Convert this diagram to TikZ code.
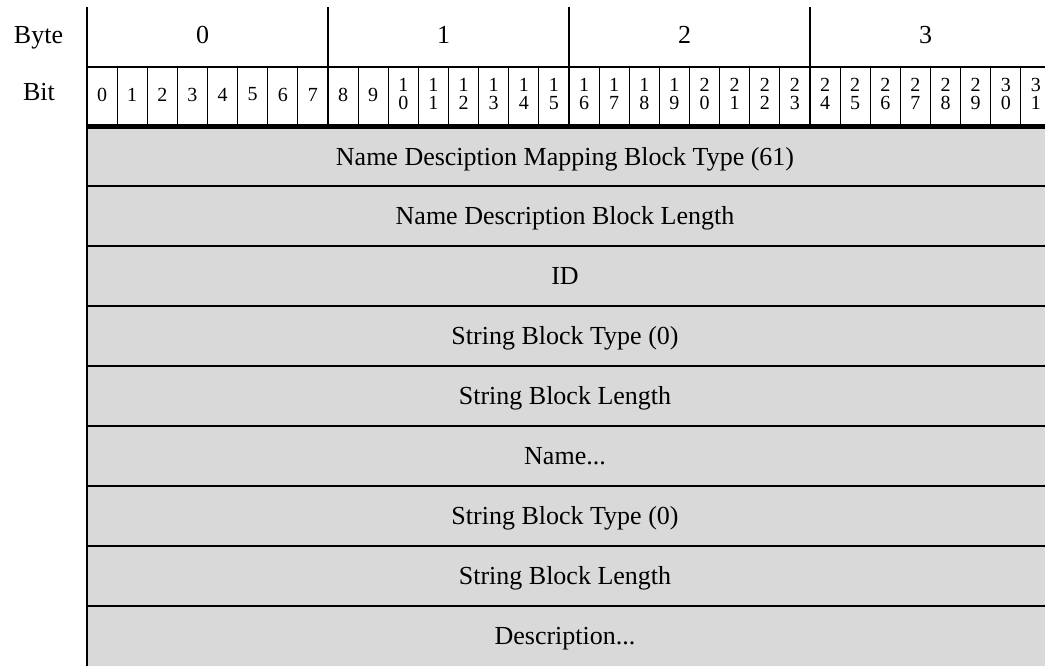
\documentclass[tikz,border=0pt]{standalone}
\usepackage{fontspec}
\setmainfont{Liberation Serif}
\definecolor{rowgray}{RGB}{217,217,217}
\begin{document}
\begin{tikzpicture}[x=1pt,y=-1pt,
  maintext/.style={font=\fontsize{26}{30}\selectfont, inner sep=0pt, anchor=base},
  bittext/.style={font=\fontsize{20}{18}\selectfont, inner sep=0pt, align=center, anchor=center},
  bitline/.style={line width=0.9pt},
  byteline/.style={line width=2pt},
  rowline/.style={line width=1.4pt},
  thickline/.style={line width=5pt}]
\useasboundingbox (0,0) rectangle (1045,665);
\clip (0,0) rectangle (1045,665);
% gray field
\fill[rowgray] (87,126) rectangle (1050,670);
% row separators
\foreach \k in {0,...,7}{
  \draw[rowline] (86,186+60*\k) -- (1050,186+60*\k);
}
% horizontal line between byte and bit rows
\draw[line width=1.5pt] (86,67) -- (1050,67);
% bit dividers
\foreach \k in {1,...,31}{
  \draw[bitline] ({87+30.125*\k},67) -- ({87+30.125*\k},124);
}
% byte dividers
\foreach \b in {1,2,3}{
  \draw[byteline] ({87+241*\b},7) -- ({87+241*\b},124);
}
% thick line under bit row
\draw[thickline] (86,126.5) -- (1050,126.5);
% left vertical line
\draw[byteline] (87,7) -- (87,670);
% header labels
\node[maintext] (byte) at (38.5,43.5) {Byte};
\node[maintext] (bit) at (39,100.5) {Bit};
\foreach \b in {0,1,2,3}{
  \node[maintext] (b\b) at ({87+241*(\b+0.5)-5},43.5) {\b};
}
% bit labels
\foreach \k in {0,...,9}{
  \node[bittext] (t\k) at ({87+30.125*(\k+0.5)},94.5) {\k};
}
\foreach \k/\a/\c in {10/1/0,11/1/1,12/1/2,13/1/3,14/1/4,15/1/5,16/1/6,17/1/7,18/1/8,19/1/9,
  20/2/0,21/2/1,22/2/2,23/2/3,24/2/4,25/2/5,26/2/6,27/2/7,28/2/8,29/2/9,30/3/0,31/3/1}{
  \node[bittext] (t\k) at ({87+30.125*(\k+0.5)},94) {\a\\\c};
}
% row texts
\node[maintext] (r1) at (565,165) {Name Desciption Mapping Block Type (61)};
\node[maintext] (r2) at (565,224) {Name Description Block Length};
\node[maintext] (r3) at (565,284) {ID};
\node[maintext] (r4) at (565,344) {String Block Type (0)};
\node[maintext] (r5) at (565,404) {String Block Length};
\node[maintext] (r6) at (565,464) {Name...};
\node[maintext] (r7) at (565,524) {String Block Type (0)};
\node[maintext] (r8) at (565,584) {String Block Length};
\node[maintext] (r9) at (565,644) {Description...};
\end{tikzpicture}
\end{document}
